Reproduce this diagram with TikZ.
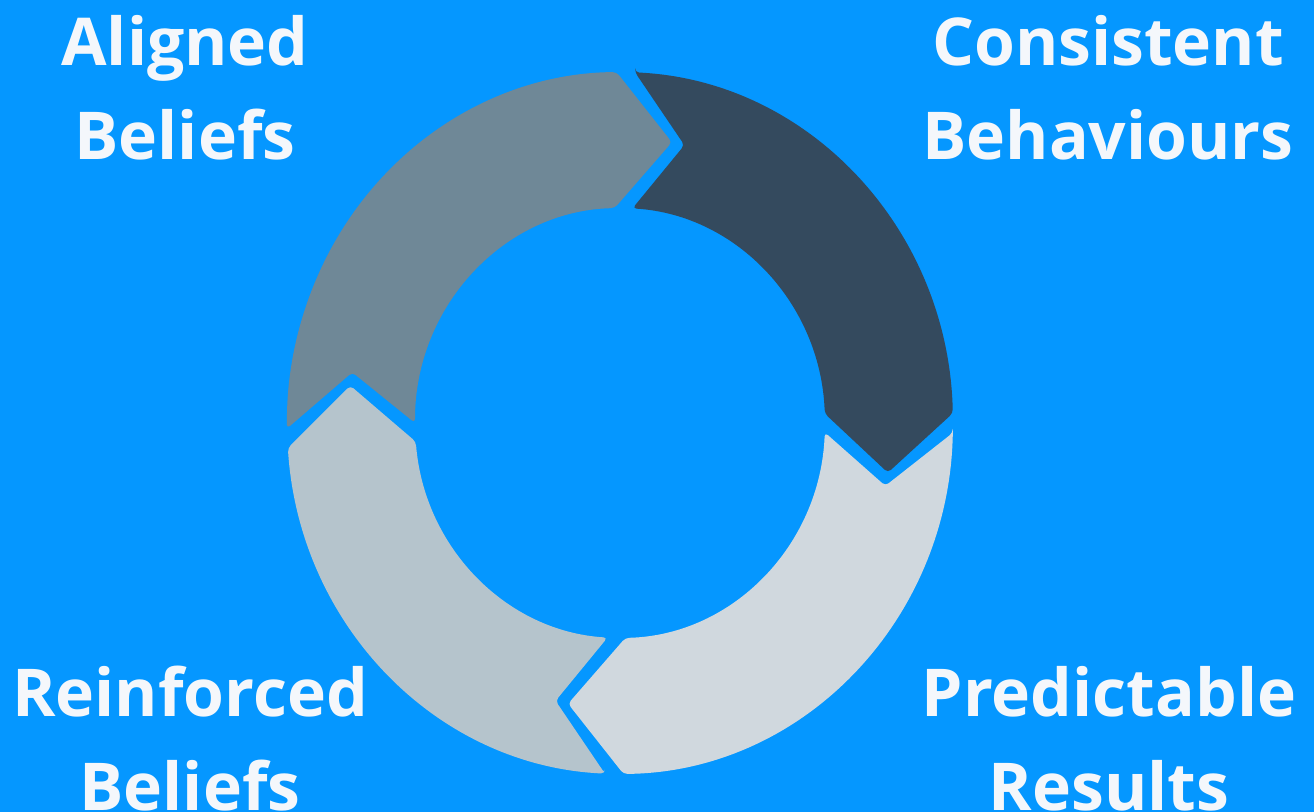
\documentclass[tikz,border=0pt]{standalone}
\usepackage{fontspec}
\setmainfont{Open Sans}
\usetikzlibrary{calc}
\definecolor{sfondo}{HTML}{0597FF}
\definecolor{grigio}{HTML}{6F8897}
\definecolor{scuro}{HTML}{344A5E}
\definecolor{chiaro}{HTML}{D0D8DE}
\definecolor{azzurro}{HTML}{B5C4CC}
\definecolor{testo}{HTML}{F4F7FB}
\tikzset{
etichetta/.style={align=center,anchor=base,inner sep=0pt,text=testo,
  font=\fontsize{33}{47}\selectfont\bfseries},
settore/.style={rounded corners=2pt}}
% #1 = tail junction, #2 = head junction, #3 = colour
\newcommand{\segmento}[3]{
\fill[settore,#3]
	(#1-1.6:333 and 351) -- (#1-12.7:272 and 286) -- (#1-2.5:205 and 215)
	arc[start angle=#1-2.5,end angle=#2+2.5,x radius=205,y radius=215]
	-- (#2-10:272 and 286) -- (#2+1.6:333 and 351)
	arc[start angle=#2+1.6,end angle=#1-1.6,x radius=333,y radius=351]
	-- cycle;}

\begin{document}
\begin{tikzpicture}[x=0.5pt,y=0.5pt]

\clip (-620,-389) rectangle (694,423);
\fill[sfondo] (-620,-389) rectangle (694,423);

\segmento{182.5}{89}{grigio}
\segmento{89}{0}{scuro}
\segmento{0}{-91}{chiaro}
\segmento{269}{182.5}{azzurro}

% base = baseline of the last line
\node[etichetta] (aligned) at (-435,263) {Aligned\\Beliefs};
\node[etichetta] (consistent) at (488,263) {Consistent\\Behaviours};
\node[etichetta] (reinforced) at (-430,-388) {Reinforced\\Beliefs};
\node[etichetta] (predictable) at (489,-388) {Predictable\\Results};
\end{tikzpicture}
\end{document}
